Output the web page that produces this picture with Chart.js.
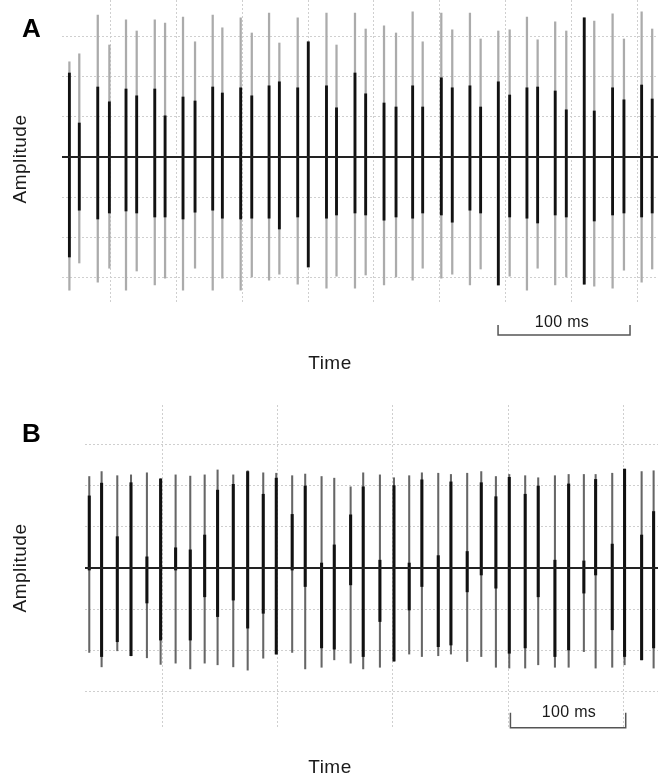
<!DOCTYPE html>
<html>
<head>
<meta charset="utf-8">
<script src="https://cdn.jsdelivr.net/npm/chart.js@4.4.1/dist/chart.umd.min.js"></script>
<style>
    body { margin: 0; background: #fff; width: 663px; height: 778px; position: relative; overflow: hidden;
           font-family: "Liberation Sans", Arial, sans-serif; color: #1a1a1a; }
    canvas { position: absolute; left: 0; }
    .lbl { position: absolute; white-space: nowrap; }
    .panel-tag { font-weight: bold; font-size: 26px; color: #000; }
    .axis-name { font-size: 19px; letter-spacing: 0.5px; transform: translate(-50%, -50%); }
    .amp { transform: translate(-50%, -50%) rotate(-90deg); }
    .bar-text { font-size: 16px; letter-spacing: 0.3px; transform: translate(-50%, -50%); }
</style>
</head>
<body>
<canvas id="chart-a" width="663" height="390" style="top:0"></canvas>
<canvas id="chart-b" width="663" height="388" style="top:390px"></canvas>

<div class="lbl panel-tag" style="left:22px;top:13px">A</div>
<div class="lbl axis-name amp" style="left:20px;top:159px">Amplitude</div>
<div class="lbl axis-name" style="left:330px;top:363px">Time</div>
<div class="lbl bar-text" style="left:562px;top:322px">100 ms</div>

<div class="lbl panel-tag" style="left:22px;top:418px">B</div>
<div class="lbl axis-name amp" style="left:20px;top:568px">Amplitude</div>
<div class="lbl axis-name" style="left:330px;top:767px">Time</div>
<div class="lbl bar-text" style="left:569px;top:712px">100 ms</div>

<script>
// Panel A - spike times (ms) and amplitudes (arbitrary units)
const timesA = [19.2, 26.7, 40.7, 49.5, 62.1, 70.2, 83.9, 91.7, 105.3, 114.4, 127.8, 135.1, 149.0, 157.4,
    170.5, 178.3, 192.2, 200.2, 214.0, 221.6, 235.6, 243.7, 257.6, 266.7, 279.3, 286.9, 301.0, 309.3,
    322.7, 330.8, 344.2, 352.8, 365.9, 374.0, 387.3, 395.7, 409.3, 416.9, 430.8, 439.4, 452.8, 460.8];
const peakA = [2.38, 2.58, 3.55, 2.80, 3.43, 3.15, 3.43, 3.35, 3.50, 2.88, 3.55, 3.23, 3.48, 3.10,
    3.60, 2.85, 3.48, 2.88, 3.60, 2.80, 3.60, 3.20, 3.28, 3.10, 3.63, 2.88, 3.60, 3.18,
    3.60, 2.95, 3.15, 3.18, 3.50, 2.93, 3.38, 3.15, 3.48, 3.40, 3.58, 2.95, 3.63, 3.20];
const coreTopA = [2.10, 0.85, 1.75, 1.38, 1.70, 1.53, 1.70, 1.03, 1.50, 1.40, 1.75, 1.60, 1.73, 1.53,
    1.78, 1.88, 1.73, 2.88, 1.78, 1.23, 2.10, 1.58, 1.35, 1.25, 1.78, 1.25, 1.98, 1.73,
    1.78, 1.25, 1.88, 1.55, 1.73, 1.75, 1.65, 1.18, 3.48, 1.15, 1.73, 1.43, 1.80, 1.45];
const coreBottomA = [-2.50, -1.33, -1.55, -1.40, -1.35, -1.40, -1.50, -1.50, -1.55, -1.38, -1.33, -1.53, -1.55, -1.53,
    -1.53, -1.80, -1.50, -2.75, -1.53, -1.45, -1.40, -1.45, -1.58, -1.50, -1.53, -1.40, -1.45, -1.63,
    -1.33, -1.40, -3.20, -1.50, -1.53, -1.65, -1.45, -1.50, -3.18, -1.60, -1.45, -1.40, -1.50, -1.40];
const troughA = [-3.33, -2.65, -3.13, -2.78, -3.33, -2.85, -3.20, -3.03, -3.33, -2.78, -3.33, -3.03, -3.33, -3.00,
    -3.08, -2.93, -3.18, -2.75, -3.28, -2.98, -3.28, -2.95, -3.20, -3.00, -3.08, -2.78, -3.03, -2.93,
    -3.20, -2.80, -3.20, -2.98, -3.33, -2.78, -3.20, -3.00, -3.18, -3.23, -3.28, -2.83, -3.13, -2.80];

// Panel B
const timesB = [36.7, 47.4, 61.0, 72.9, 86.7, 98.6, 111.6, 124.3, 136.8, 148.0, 161.6, 174.1, 187.6, 198.9,
    212.7, 224.0, 238.2, 249.2, 263.4, 274.3, 288.8, 301.0, 314.2, 325.2, 339.4, 350.4, 364.5, 376.7,
    389.4, 401.0, 414.8, 426.1, 440.6, 452.5, 465.7, 475.9, 490.3, 501.0, 515.8, 526.2];
const peakB = [2.22, 2.34, 2.24, 2.26, 2.31, 2.17, 2.26, 2.23, 2.26, 2.38, 2.26, 2.36, 2.31, 2.30,
    2.24, 2.28, 2.22, 2.18, 1.97, 2.31, 2.26, 2.19, 2.24, 2.31, 2.30, 2.27, 2.30, 2.34,
    2.22, 2.27, 2.24, 2.19, 2.24, 2.27, 2.27, 2.27, 2.30, 2.40, 2.34, 2.36];
const coreTopB = [1.75, 2.06, 0.76, 2.07, 0.27, 2.16, 0.49, 0.44, 0.80, 1.89, 2.03, 2.34, 1.79, 2.18,
    1.30, 1.99, 0.12, 0.56, 1.29, 1.97, 0.19, 2.00, 0.12, 2.14, 0.30, 2.09, 0.40, 2.07,
    1.73, 2.20, 1.79, 1.99, 0.19, 2.04, 0.17, 2.15, 0.58, 2.40, 0.80, 1.37];
const coreBottomB = [-0.05, -2.15, -1.79, -2.13, -0.85, -1.75, -0.05, -1.75, -0.70, -1.18, -0.78, -1.46, -1.10, -2.09,
    -0.05, -0.45, -1.94, -1.97, -0.41, -2.15, -1.30, -2.26, -1.02, -0.45, -1.91, -1.87, -0.58, -0.17,
    -0.49, -2.07, -1.94, -0.70, -2.15, -1.99, -0.61, -0.17, -1.50, -2.15, -2.23, -1.94];
const troughB = [-2.05, -2.40, -2.01, -2.13, -2.18, -2.34, -2.31, -2.45, -2.31, -2.35, -2.40, -2.48, -2.19, -2.09,
    -2.05, -2.45, -2.41, -2.23, -2.31, -2.45, -2.41, -2.26, -2.09, -2.15, -2.13, -2.09, -2.27, -2.15,
    -2.41, -2.43, -2.43, -2.35, -2.41, -2.41, -2.03, -2.43, -2.41, -2.35, -2.23, -2.43];

// Grid ticks
const ampTicks = [-3, -2, -1, 0, 1, 2, 3];
const timeTicksA = [50, 100, 150, 200, 250, 300, 350, 400, 450];
const timeTicksB = [100, 200, 300, 400, 500];

// Draws the "100 ms" bracket under the traces using the chart's own x scale
const scaleBarPlugin = {
    id: 'scaleBar',
    afterDraw(chart, args, opts) {
        const ctx = chart.ctx;
        const x = chart.scales.x;
        const y = chart.scales.y;
        const x0 = x.getPixelForValue(opts.start);
        const x1 = x.getPixelForValue(opts.start + opts.length);
        const yb = y.getPixelForValue(opts.level);
        ctx.save();
        ctx.strokeStyle = '#555';
        ctx.lineWidth = 1.5;
        ctx.beginPath();
        ctx.moveTo(x0, yb - opts.tick);
        ctx.lineTo(x0, yb);
        ctx.lineTo(x1, yb);
        ctx.lineTo(x1, yb - opts.tick);
        ctx.stroke();
        ctx.restore();
    }
};

function spikes(times, lo, hi) {
    return times.map((t, i) => ({ x: t, y: [lo[i], hi[i]] }));
}

function makeChart(id, cfg) {
    const ctx = document.getElementById(id).getContext('2d');
    return new Chart(ctx, {
        type: 'bar',
        data: {
            datasets: [
                {
                    data: spikes(cfg.times, cfg.trough, cfg.peak),
                    backgroundColor: cfg.outerColor,
                    barThickness: cfg.outerWidth,
                    borderWidth: 0,
                    order: 3
                },
                {
                    data: spikes(cfg.times, cfg.coreBottom, cfg.coreTop),
                    backgroundColor: '#111',
                    barThickness: cfg.coreWidth,
                    borderWidth: 0,
                    order: 2
                },
                {
                    type: 'line',
                    data: [{ x: cfg.xMin, y: 0 }, { x: cfg.xMax, y: 0 }],
                    borderColor: '#222',
                    borderWidth: 2,
                    pointRadius: 0,
                    order: 1
                }
            ]
        },
        options: {
            responsive: false,
            animation: false,
            grouped: false,
            layout: { padding: cfg.padding },
            plugins: {
                legend: { display: false },
                tooltip: { enabled: false },
                scaleBar: cfg.scaleBar
            },
            scales: {
                x: {
                    type: 'linear',
                    min: cfg.xMin,
                    max: cfg.xMax,
                    offset: false,
                    afterBuildTicks: (scale) => { scale.ticks = cfg.timeTicks.map(v => ({ value: v })); },
                    ticks: { display: false },
                    grid: { color: '#cfcfcf', lineWidth: 1, drawTicks: false, offset: false },
                    border: { display: false, dash: [2, 2] }
                },
                y: {
                    min: cfg.yMin,
                    max: cfg.yMax,
                    afterBuildTicks: (scale) => { scale.ticks = ampTicks.map(v => ({ value: v })); },
                    ticks: { display: false },
                    grid: { color: '#cfcfcf', lineWidth: 1, drawTicks: false },
                    border: { display: false, dash: [2, 2] }
                }
            }
        },
        plugins: [scaleBarPlugin]
    });
}

makeChart('chart-a', {
    times: timesA, peak: peakA, coreTop: coreTopA, coreBottom: coreBottomA, trough: troughA,
    timeTicks: timeTicksA, xMin: 13.6, xMax: 465.2, yMin: -3.65, yMax: 3.925,
    outerColor: '#ababab', outerWidth: 1.6, coreWidth: 2.2,
    padding: { left: 62, right: 5, top: 0, bottom: 87 },
    scaleBar: { start: 344, length: 100, level: -4.45, tick: 10 }
});

makeChart('chart-b', {
    times: timesB, peak: peakB, coreTop: coreTopB, coreBottom: coreBottomB, trough: troughB,
    timeTicks: timeTicksB, xMin: 33, xMax: 530, yMin: -3.86, yMax: 3.956,
    outerColor: '#666', outerWidth: 1.4, coreWidth: 2.4,
    padding: { left: 85, right: 5, top: 15, bottom: 51 },
    scaleBar: { start: 402, length: 100, level: -3.88, tick: 15 }
});
</script>
</body>
</html>
